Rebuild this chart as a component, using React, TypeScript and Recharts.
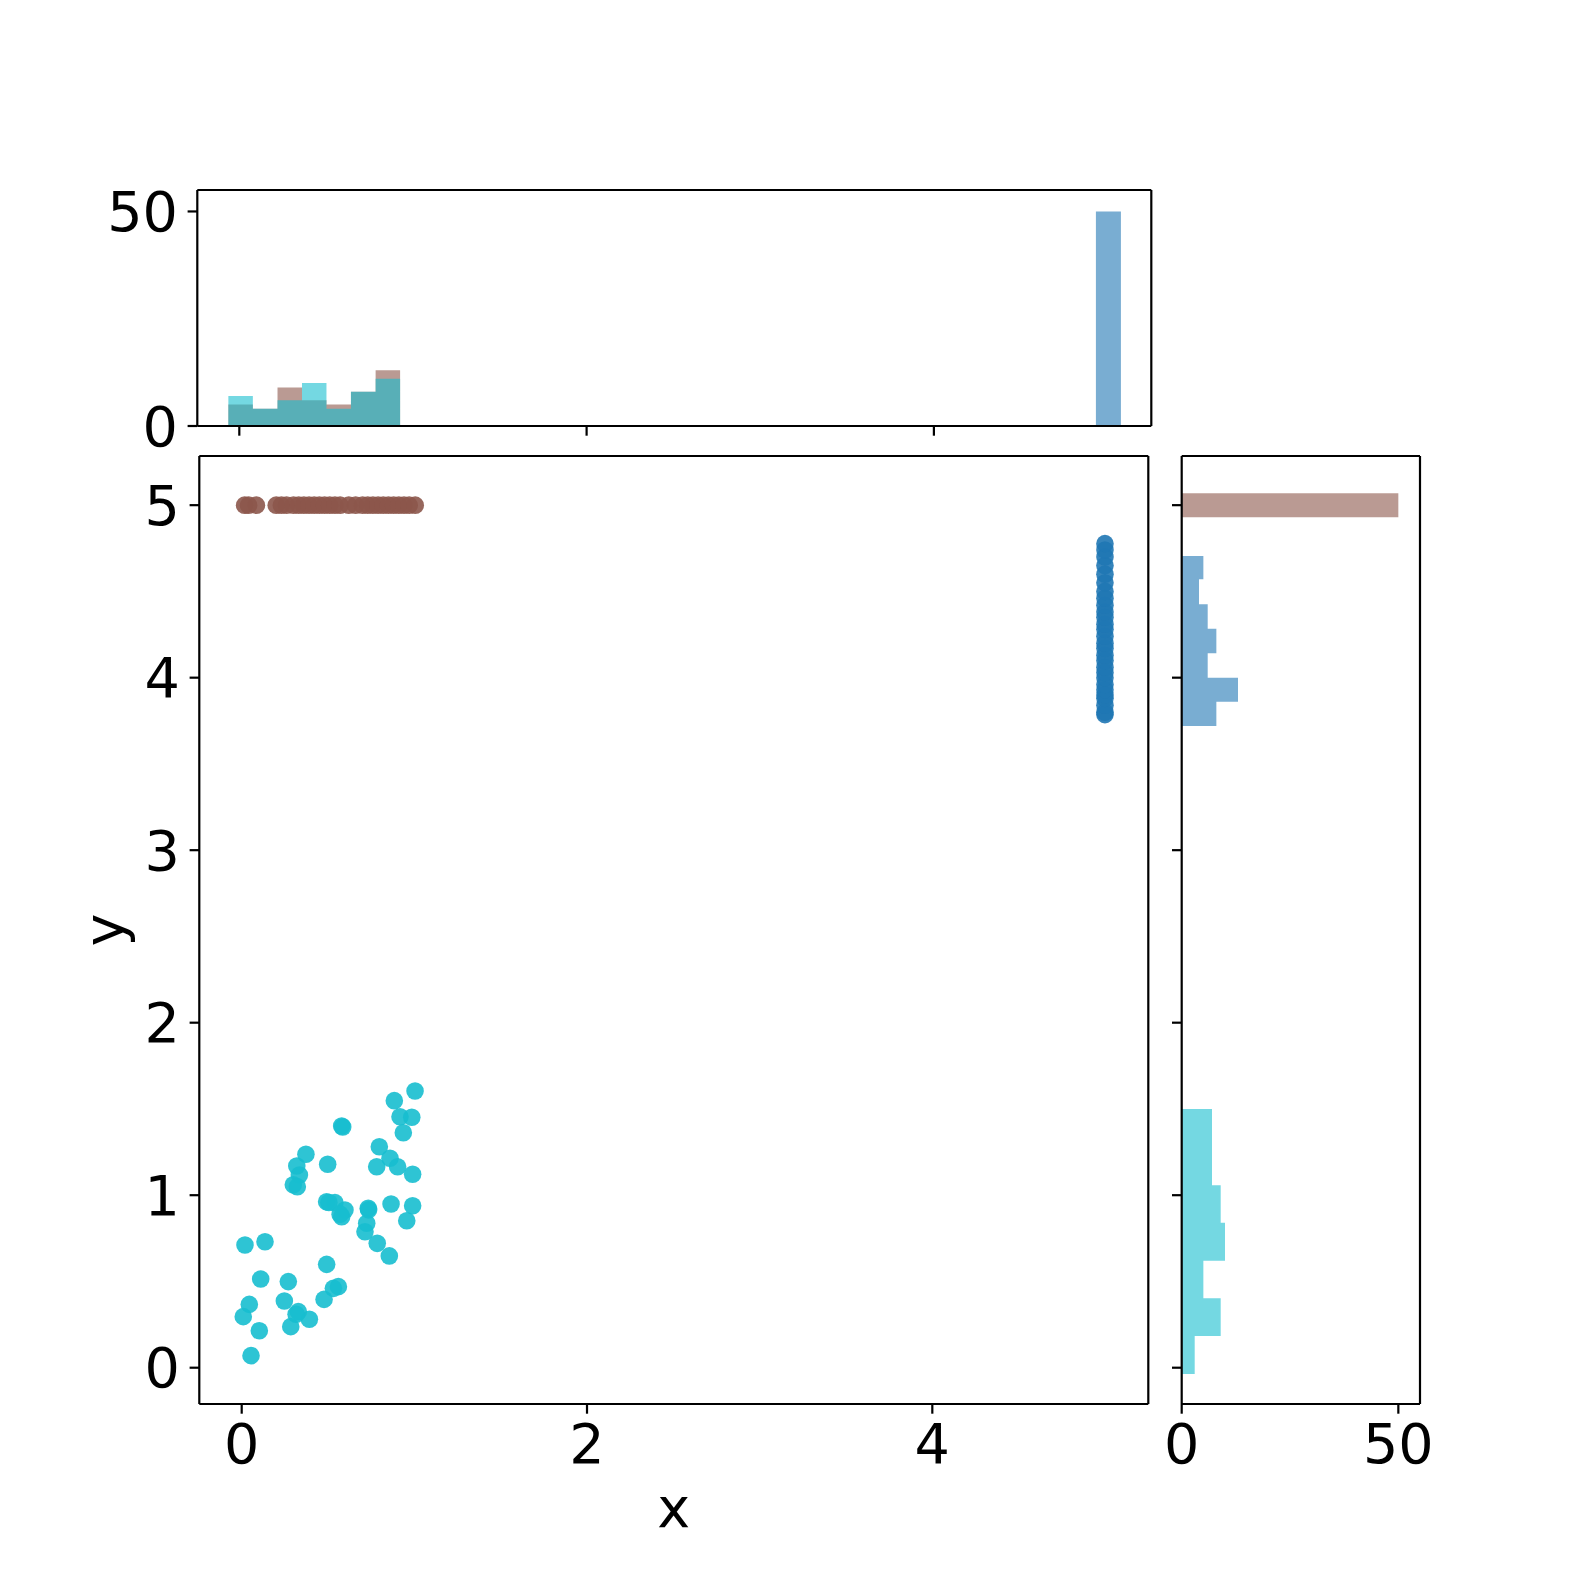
import React from 'react';
import { ScatterChart, Scatter, ComposedChart, Area, XAxis, YAxis } from 'recharts';

// scatter points
const CYAN_X = [1.004, 0.884, 0.917, 0.985, 0.936, 0.579, 0.372, 0.319, 0.334, 0.299, 0.322, 0.498, 0.797, 0.859, 0.782, 0.903, 0.99, 0.492, 0.54, 0.598, 0.579, 0.733, 0.724, 0.714, 0.785, 0.855, 0.865, 0.99, 0.956, 0.019, 0.135, 0.11, 0.27, 0.492, 0.56, 0.531, 0.477, 0.044, 0.009, 0.247, 0.328, 0.392, 0.284, 0.102, 0.054, 0.585, 0.505, 0.57, 0.735, 0.315];
const CYAN_Y = [1.604, 1.548, 1.455, 1.452, 1.362, 1.401, 1.237, 1.169, 1.117, 1.06, 1.049, 1.179, 1.281, 1.214, 1.165, 1.165, 1.121, 0.962, 0.957, 0.914, 0.875, 0.924, 0.837, 0.788, 0.721, 0.648, 0.949, 0.939, 0.852, 0.711, 0.73, 0.514, 0.499, 0.599, 0.47, 0.46, 0.396, 0.367, 0.296, 0.387, 0.325, 0.281, 0.238, 0.214, 0.07, 1.395, 0.958, 0.89, 0.915, 0.31];
const BROWN_X = [0.017, 0.04, 0.085, 0.2, 0.23, 0.26, 0.3, 0.33, 0.36, 0.39, 0.42, 0.45, 0.48, 0.51, 0.54, 0.57, 0.62, 0.66, 0.7, 0.73, 0.76, 0.79, 0.82, 0.85, 0.88, 0.91, 0.94, 0.97, 1.005];
const BROWN_Y = 5;
const BLUE_X = 5;
const BLUE_Y = [3.786, 3.8, 3.84, 3.88, 3.9, 3.93, 3.96, 4.0, 4.03, 4.06, 4.1, 4.13, 4.17, 4.2, 4.24, 4.28, 4.31, 4.35, 4.38, 4.42, 4.46, 4.5, 4.55, 4.6, 4.65, 4.7, 4.74, 4.777];

// top histogram (x): bin edges and counts
const TOP_EDGES = [-0.063, 0.078, 0.22, 0.361, 0.502, 0.643, 0.785, 0.926];
const TOP_CYAN = [7, 4, 6, 10, 4, 8, 11];
const TOP_BROWN = [5, 4, 9, 6, 5, 8, 13];
const TOP_BLUE_EDGES = [4.933, 5.077];
const TOP_BLUE = [50];

// right histogram (y): bin edges (bottom to top) and counts
const RIGHT_CYAN_EDGES = [-0.036, 0.184, 0.402, 0.62, 0.841, 1.058, 1.279, 1.5];
const RIGHT_CYAN = [3, 9, 5, 10, 9, 7, 7];
const RIGHT_BLUE_EDGES = [3.72, 3.861, 4.0, 4.142, 4.283, 4.426, 4.571, 4.706];
const RIGHT_BLUE = [8, 13, 6, 8, 6, 4, 5];
const RIGHT_BROWN_EDGES = [4.93, 5.069];
const RIGHT_BROWN = [50];

const X_TICKS = [0, 2, 4];
const Y_TICKS = [0, 1, 2, 3, 4, 5];
const COUNT_TICKS = [0, 50];

const CYAN = '#17becf';
const BROWN = '#8c564b';
const BLUE = '#1f77b4';

const W = 1578;
const FONT = 'DejaVu Sans';
const FS = 55.6;
const LW = 2.2;
const tickStyle = { fontSize: FS, fill: '#000', fontFamily: FONT };
const line = { stroke: '#000', strokeWidth: LW };

const X_DOMAIN: [number, number] = [-0.2456, 5.251];
const TOP_X_DOMAIN: [number, number] = [-0.2419, 5.252];
const Y_DOMAIN: [number, number] = [-0.2104, 5.285];
const COUNT_DOMAIN: [number, number] = [0, 55];

const cyanPts = CYAN_X.map((x, i) => ({ x, y: CYAN_Y[i] }));
const brownPts = BROWN_X.map((x) => ({ x, y: BROWN_Y }));
const bluePts = BLUE_Y.map((y) => ({ x: BLUE_X, y }));

// one row per bin edge; the closing edge drops back to 0
const edgeRows = (pos: string, edges: number[], series: Record<string, number[]>) =>
  edges.map((e, i) => {
    const row: Record<string, number> = { [pos]: e };
    Object.keys(series).forEach((k) => {
      row[k] = i < series[k].length ? series[k][i] : 0;
    });
    return row;
  });

const topRows = [
  ...edgeRows('x', TOP_EDGES, { brown: TOP_BROWN, cyan: TOP_CYAN }),
  ...edgeRows('x', TOP_BLUE_EDGES, { blue: TOP_BLUE }),
];
const rightRows = [
  ...edgeRows('y', RIGHT_CYAN_EDGES, { cyan: RIGHT_CYAN }),
  ...edgeRows('y', RIGHT_BLUE_EDGES, { blue: RIGHT_BLUE }),
  ...edgeRows('y', RIGHT_BROWN_EDGES, { brown: RIGHT_BROWN }),
];

const dot = (color: string) => (p: any) => (
  <circle cx={p.cx} cy={p.cy} r={8.8} fill={color} fillOpacity={0.9} />
);

const blank = () => '';

const App: React.FC = () => {
  return (
    <div style={{ position: 'absolute', left: 0, top: 0, width: W, height: W, background: '#fff' }}>
      {/* main scatter */}
      <div style={{ position: 'absolute', left: 0, top: 0 }}>
        <ScatterChart width={W} height={W} margin={{ top: 455, right: 428.7, bottom: 44, left: 0 }}>
          <XAxis
            dataKey="x"
            type="number"
            domain={X_DOMAIN}
            allowDataOverflow
            ticks={X_TICKS}
            interval={0}
            height={130}
            tick={tickStyle}
            tickLine={line}
            axisLine={line}
            tickSize={9.7}
            tickMargin={9.7}
            label={{ value: 'x', position: 'insideBottom', offset: 7, fontSize: FS, fill: '#000', fontFamily: FONT }}
          />
          <XAxis xAxisId="top" orientation="top" dataKey="x" type="number" domain={X_DOMAIN} allowDataOverflow height={1} tick={false} tickLine={false} axisLine={line} />
          <YAxis
            dataKey="y"
            type="number"
            domain={Y_DOMAIN}
            allowDataOverflow
            ticks={Y_TICKS}
            interval={0}
            width={199.3}
            tick={tickStyle}
            tickLine={line}
            axisLine={line}
            tickSize={9.7}
            tickMargin={9.7}
            label={() => (
              <text x={123} y={930} transform="rotate(-90, 123, 930)" textAnchor="middle" fontSize={FS} fill="#000" fontFamily={FONT}>
                y
              </text>
            )}
          />
          <YAxis yAxisId="right" orientation="right" dataKey="y" type="number" domain={Y_DOMAIN} allowDataOverflow width={1} tick={false} tickLine={false} axisLine={line} />
          <Scatter data={cyanPts} shape={dot(CYAN)} isAnimationActive={false} />
          <Scatter data={brownPts} shape={dot(BROWN)} isAnimationActive={false} />
          <Scatter data={bluePts} shape={dot(BLUE)} isAnimationActive={false} />
        </ScatterChart>
      </div>

      {/* top histogram */}
      <div style={{ position: 'absolute', left: 0, top: 0 }}>
        <ComposedChart data={topRows} width={W} height={W} margin={{ top: 189, right: 425.7, bottom: 1140, left: 0 }}>
          <XAxis
            dataKey="x"
            type="number"
            domain={TOP_X_DOMAIN}
            allowDataOverflow
            ticks={X_TICKS}
            interval={0}
            height={12}
            tick={tickStyle}
            tickFormatter={blank}
            tickLine={line}
            axisLine={line}
            tickSize={9.7}
          />
          <XAxis xAxisId="top" orientation="top" dataKey="x" type="number" domain={TOP_X_DOMAIN} allowDataOverflow height={1} tick={false} tickLine={false} axisLine={line} />
          <YAxis
            type="number"
            domain={COUNT_DOMAIN}
            allowDataOverflow
            ticks={COUNT_TICKS}
            interval={0}
            width={197.3}
            tick={tickStyle}
            tickLine={line}
            axisLine={line}
            tickSize={9.7}
            tickMargin={9.7}
          />
          <YAxis yAxisId="right" orientation="right" type="number" domain={COUNT_DOMAIN} allowDataOverflow width={1} tick={false} tickLine={false} axisLine={line} />
          <Area dataKey="brown" type="stepAfter" fill={BROWN} fillOpacity={0.6} stroke="none" isAnimationActive={false} />
          <Area dataKey="cyan" type="stepAfter" fill={CYAN} fillOpacity={0.6} stroke="none" isAnimationActive={false} />
          <Area dataKey="blue" type="stepAfter" fill={BLUE} fillOpacity={0.6} stroke="none" isAnimationActive={false} />
        </ComposedChart>
      </div>

      {/* right histogram */}
      <div style={{ position: 'absolute', left: 0, top: 0 }}>
        <ComposedChart layout="vertical" data={rightRows} width={W} height={W} margin={{ top: 455, right: 157, bottom: 44, left: 1169.7 }}>
          <XAxis
            type="number"
            domain={COUNT_DOMAIN}
            allowDataOverflow
            ticks={COUNT_TICKS}
            interval={0}
            height={130}
            tick={tickStyle}
            tickLine={line}
            axisLine={line}
            tickSize={9.7}
            tickMargin={9.7}
          />
          <XAxis xAxisId="top" orientation="top" type="number" domain={COUNT_DOMAIN} allowDataOverflow height={1} tick={false} tickLine={false} axisLine={line} />
          <YAxis
            dataKey="y"
            type="number"
            domain={Y_DOMAIN}
            allowDataOverflow
            reversed
            ticks={Y_TICKS}
            interval={0}
            width={12}
            tick={tickStyle}
            tickFormatter={blank}
            tickLine={line}
            axisLine={line}
            tickSize={9.7}
          />
          <YAxis yAxisId="right" orientation="right" dataKey="y" type="number" domain={Y_DOMAIN} allowDataOverflow reversed width={1} tick={false} tickLine={false} axisLine={line} />
          <Area dataKey="brown" type="stepBefore" fill={BROWN} fillOpacity={0.6} stroke="none" isAnimationActive={false} />
          <Area dataKey="blue" type="stepBefore" fill={BLUE} fillOpacity={0.6} stroke="none" isAnimationActive={false} />
          <Area dataKey="cyan" type="stepBefore" fill={CYAN} fillOpacity={0.6} stroke="none" isAnimationActive={false} />
        </ComposedChart>
      </div>
    </div>
  );
};

export default App;
